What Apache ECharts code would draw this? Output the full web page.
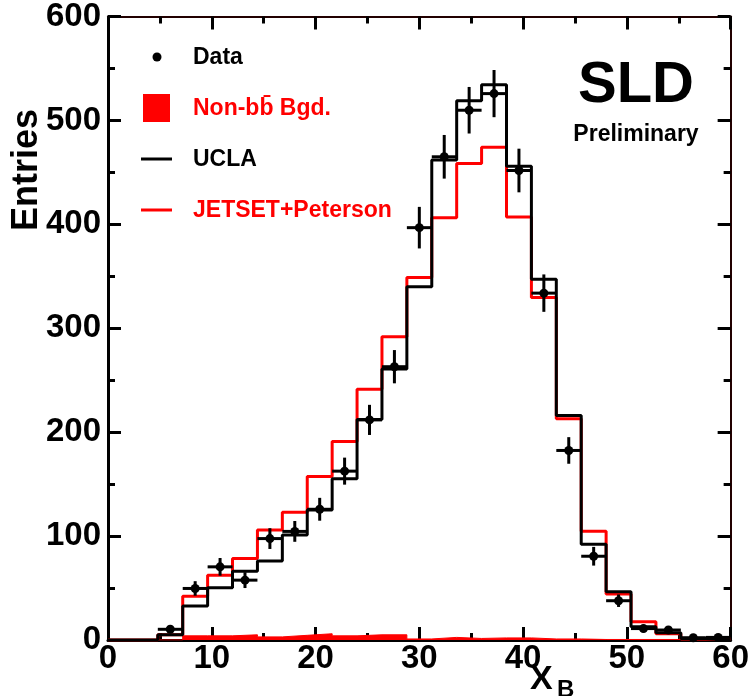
<!DOCTYPE html>
<html>
<head>
<meta charset="utf-8">
<script src="https://cdn.jsdelivr.net/npm/echarts@6/dist/echarts.min.js"></script>
<style>
html,body{margin:0;padding:0;background:#fff;}
#chart{width:752px;height:696px;}
</style>
</head>
<body>
<div id="chart"></div>
<script>
// Bin edges of the X_B histogram (25 bins)
const binEdges = [0, 2.4, 4.8, 7.2, 9.6, 12, 14.4, 16.8, 19.2, 21.6, 24, 26.4, 28.8, 31.2, 33.6, 36, 38.4, 40.8, 43.2, 45.6, 48, 50.4, 52.8, 55.2, 57.6, 60];
// Data points (null = no point)
const dataValues = [null, null, 10.3, 49.6, 70.4, 57.6, 97.6, 104.5, 125.8, 162.5, 211.8, 263, 396.8, 465, 509.8, 525.8, 451.8, 333.8, 182.4, 80.6, 37.8, 11, 9.6, 2.2, 2.5];
const dataErrors = [null, null, 3, 7, 8.5, 7.6, 10, 10, 11, 13, 14.5, 16, 20, 21, 22.4, 22.7, 21, 18, 12.8, 9, 6, 3.5, 3, 1.5, 1.5];
// UCLA model histogram
const uclaValues = [0, 0, 5, 32.6, 50.2, 66.2, 76, 101, 125, 155.2, 212.2, 260.8, 340, 461.8, 519, 534.4, 456, 347.2, 216, 92.2, 46.4, 12.8, 7, 1.5, 0];
// JETSET+Peterson histogram
const jetsetValues = [0, 0, 5, 42.2, 62.4, 78.4, 105.8, 123, 157.4, 191, 241.3, 291.8, 348.8, 406.4, 458.6, 474.2, 407, 329.6, 212.8, 104.6, 44.2, 17.6, 6, 1, 1];
// Non-bb background histogram
const bgdValues = [0, 0, 0, 4, 4, 5, 3, 4.5, 6, 4, 5, 5, 1, 2.5, 1.5, 2, 2, 1, 1, 0.5, 0.5, 0.5, 0.5, 0.3, 0.3];
// Axis ranges / tick steps
const xRange = [0, 60], xStep = 10;
const yRange = [0, 600], yStep = 100;

function histData(vals) {
  const d = vals.map((v, i) => [binEdges[i], v]);
  d.push([binEdges[vals.length], vals[vals.length - 1]]);
  return d;
}
const pointData = [];
dataValues.forEach((v, i) => {
  if (v !== null) {
    pointData.push([(binEdges[i] + binEdges[i + 1]) / 2, v, dataErrors[i], binEdges[i], binEdges[i + 1]]);
  }
});

const FONT = 'Liberation Sans, Arial, sans-serif';
const chart = echarts.init(document.getElementById('chart'));

function tk() { return {show: true, inside: true, length: 13, lineStyle: {color: '#000', width: 3}}; }
function mtk() { return {show: true, splitNumber: 2, length: 7, lineStyle: {color: '#000', width: 3}}; }

const option = {
  animation: false,
  backgroundColor: '#fff',
  grid: {left: 108, right: 19, top: 15, bottom: 56},
  xAxis: [
    {type: 'value', position: 'bottom', min: xRange[0], max: xRange[1], interval: xStep, splitLine: {show: false},
     axisTick: tk(), minorTick: mtk(),
     axisLabel: {show: true, margin: 2, color: '#000', fontSize: 33, fontWeight: 'bold', fontFamily: FONT},
     axisLine: {show: true, onZero: false, lineStyle: {color: '#000', width: 3}}},
    {type: 'value', position: 'top', min: xRange[0], max: xRange[1], interval: xStep, splitLine: {show: false},
     axisTick: tk(), minorTick: mtk(),
     axisLabel: {show: false},
     axisLine: {show: true, onZero: false, lineStyle: {color: '#200', width: 2}}}
  ],
  yAxis: [
    {type: 'value', position: 'left', min: yRange[0], max: yRange[1], interval: yStep, splitLine: {show: false},
     axisTick: tk(), minorTick: mtk(),
     axisLabel: {show: true, margin: 7, color: '#000', fontSize: 33, fontWeight: 'bold', fontFamily: FONT},
     axisLine: {show: true, onZero: false, lineStyle: {color: '#000', width: 3}}},
    {type: 'value', position: 'right', min: yRange[0], max: yRange[1], interval: yStep, splitLine: {show: false},
     axisTick: tk(), minorTick: mtk(),
     axisLabel: {show: false},
     axisLine: {show: true, onZero: false, lineStyle: {color: '#200', width: 2}}}
  ],
  series: [
    {
      name: 'Non-bb\u0304 Bgd.', type: 'line', step: 'end', data: histData(bgdValues),
      symbol: 'none', z: 1,
      lineStyle: {color: '#ff0000', width: 1},
      areaStyle: {color: '#ff0000', opacity: 1}
    },
    {
      name: 'JETSET+Peterson', type: 'line', step: 'end', data: histData(jetsetValues),
      symbol: 'none', z: 2,
      lineStyle: {color: '#ff0000', width: 3}
    },
    {
      name: 'UCLA', type: 'line', step: 'end', data: histData(uclaValues),
      symbol: 'none', z: 3,
      lineStyle: {color: '#000', width: 3}
    },
    {
      name: 'Data', type: 'custom', z: 4, data: pointData,
      renderItem: function (params, api) {
        const x = api.value(0), y = api.value(1), e = api.value(2);
        const lo = api.value(3), hi = api.value(4);
        const c = api.coord([x, y]);
        const top = api.coord([x, y + e]);
        const bot = api.coord([x, Math.max(0, y - e)]);
        const l = api.coord([lo, y]);
        const r = api.coord([hi, y]);
        const st = {stroke: '#000', lineWidth: 3};
        return {
          type: 'group',
          children: [
            {type: 'line', shape: {x1: c[0], y1: top[1], x2: c[0], y2: bot[1]}, style: st},
            {type: 'line', shape: {x1: l[0], y1: c[1], x2: r[0], y2: c[1]}, style: st},
            {type: 'circle', shape: {cx: c[0], cy: c[1], r: 4.5}, style: {fill: '#000'}}
          ]
        };
      }
    }
  ],
  graphic: [
    // Legend
    {type: 'circle', shape: {cx: 157, cy: 57, r: 4.5}, style: {fill: '#000'}},
    {type: 'text', x: 193, y: 58, style: {text: 'Data', fill: '#000', font: 'bold 23px ' + FONT, textVerticalAlign: 'middle'}},
    {type: 'rect', shape: {x: 143, y: 94, width: 27, height: 28}, style: {fill: '#ff0000'}},
    {type: 'text', x: 193, y: 109, style: {text: 'Non-bb\u0304 Bgd.', fill: '#ff0000', font: 'bold 23px ' + FONT, textVerticalAlign: 'middle'}},
    {type: 'line', shape: {x1: 141, y1: 159, x2: 172, y2: 159}, style: {stroke: '#000', lineWidth: 3}},
    {type: 'text', x: 193, y: 160, style: {text: 'UCLA', fill: '#000', font: 'bold 23px ' + FONT, textVerticalAlign: 'middle'}},
    {type: 'line', shape: {x1: 141, y1: 210, x2: 172, y2: 210}, style: {stroke: '#ff0000', lineWidth: 3}},
    {type: 'text', x: 193, y: 211, style: {text: 'JETSET+Peterson', fill: '#ff0000', font: 'bold 23px ' + FONT, textVerticalAlign: 'middle'}},
    // SLD label
    {type: 'text', x: 636, y: 86, style: {text: 'SLD', fill: '#000', font: 'bold 58px ' + FONT, textAlign: 'center', textVerticalAlign: 'middle'}},
    {type: 'text', x: 636, y: 135, style: {text: 'Preliminary', fill: '#000', font: 'bold 23px ' + FONT, textAlign: 'center', textVerticalAlign: 'middle'}},
    // Axis titles
    {type: 'text', x: 27, y: 170, rotation: Math.PI / 2, style: {text: 'Entries', fill: '#000', font: 'bold 36px ' + FONT, textAlign: 'center', textVerticalAlign: 'middle'}},
    {type: 'text', x: 530, y: 680, style: {text: 'X', fill: '#000', font: 'bold 34px ' + FONT, textVerticalAlign: 'middle'}},
    {type: 'text', x: 557, y: 690, style: {text: 'B', fill: '#000', font: 'bold 24px ' + FONT, textVerticalAlign: 'middle'}}
  ]
};
chart.setOption(option);
</script>
</body>
</html>
